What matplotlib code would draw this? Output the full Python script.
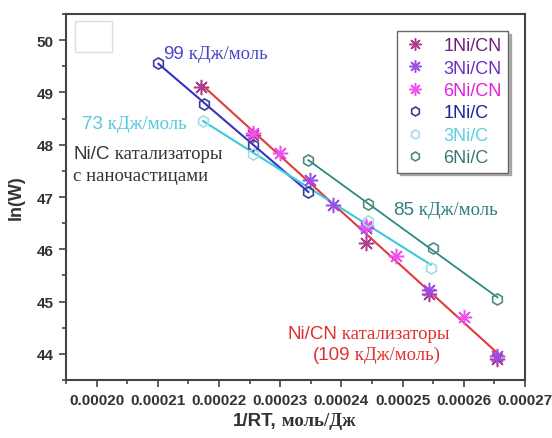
import matplotlib as mpl

mpl.use("Agg")
import matplotlib.pyplot as plt
import numpy as np
from matplotlib.patches import Rectangle
from matplotlib.ticker import FormatStrFormatter, MultipleLocator

SANS = "Liberation Sans"
SERIF = "Liberation Serif"

# Ni/CN catalysts (stars)
cn1_x = [0.0002171, 0.0002256, 0.0002440, 0.0002543, 0.0002655]
cn1_y = [49.10, 48.18, 46.12, 45.15, 43.90]
cn3_x = [0.0002349, 0.0002387, 0.0002440, 0.0002543, 0.0002655]
cn3_y = [47.32, 46.85, 46.40, 45.22, 43.95]
cn6_x = [0.0002256, 0.0002300, 0.0002440, 0.0002489, 0.0002600]
cn6_y = [48.22, 47.85, 46.45, 45.87, 44.70]

# Ni/C catalysts (hexagons)
c1_x = [0.0002101, 0.0002176, 0.0002256, 0.0002346]
c1_y = [49.56, 48.78, 48.00, 47.10]
c3_x = [0.0002174, 0.0002256, 0.0002443, 0.0002546]
c3_y = [48.45, 47.82, 46.55, 45.65]
c6_x = [0.0002346, 0.0002443, 0.0002550, 0.0002655]
c6_y = [47.70, 46.86, 46.03, 45.05]

labels = ["1Ni/CN", "3Ni/CN", "6Ni/CN", "1Ni/C", "3Ni/C", "6Ni/C"]
marker_colors = ["#b03c8c", "#9a50e6", "#f050f0", "#3c3c96", "#9fdfe6", "#4f8a84"]
text_colors = ["#6e1f78", "#6a2fc0", "#e020e0", "#1f1fa0", "#5ccfe0", "#3c7672"]


def fit_line(ax, xs, ys, color, lw=1.5):
    k, b = np.polyfit(xs, ys, 1)
    xx = np.array([min(xs), max(xs)])
    ax.plot(xx, k * xx + b, color=color, lw=lw, zorder=2)


def rich(ax, x, y, parts, color, size, coords="data"):
    # text made of pieces in different fonts (Arial digits + Times cyrillic)
    s0, kw0 = parts[0]
    prev = ax.annotate(s0, xy=(x, y), xycoords=coords, va="baseline", ha="left",
                       color=color, fontsize=size, annotation_clip=False, **kw0)
    for s, kw in parts[1:]:
        prev = ax.annotate(s, xy=(1, y), xycoords=(prev, coords), va="baseline",
                           ha="left", color=color, fontsize=size,
                           annotation_clip=False, **kw)


fig = plt.figure(figsize=(5.52, 4.39), dpi=100)
ax = fig.add_axes([0.1196, 0.1321, 0.8315, 0.8337])

fit_line(ax, cn1_x + cn3_x + cn6_x, cn1_y + cn3_y + cn6_y, "#e23a3a")
fit_line(ax, c1_x, c1_y, "#3434c4")
fit_line(ax, c3_x, c3_y, "#3ec8e0")
fit_line(ax, c6_x, c6_y, "#2e8a80", lw=1.3)

star = (8, 2, 0)
for xs, ys, lab, mc in zip([cn1_x, cn3_x, cn6_x], [cn1_y, cn3_y, cn6_y],
                           labels[:3], marker_colors[:3]):
    ax.plot(xs, ys, ls="none", marker=star, ms=11, mew=1.1, color=mc,
            label=lab, zorder=3)
for xs, ys, lab, mc in zip([c1_x, c3_x, c6_x], [c1_y, c3_y, c6_y],
                           labels[3:], marker_colors[3:]):
    ax.plot(xs, ys, ls="none", marker="h", ms=8, mew=1.2, mfc="none",
            mec=mc, label=lab, zorder=3)

ax.set_xlim(0.000195, 0.00027)
ax.set_ylim(43.5, 50.5)
ax.xaxis.set_major_locator(MultipleLocator(0.00001))
ax.xaxis.set_minor_locator(MultipleLocator(0.000005))
ax.yaxis.set_major_locator(MultipleLocator(1))
ax.yaxis.set_minor_locator(MultipleLocator(0.5))
ax.xaxis.set_major_formatter(FormatStrFormatter("%.5f"))
ax.tick_params(which="both", direction="out", top=False, right=False,
               color="#444444", width=1.2)
ax.tick_params(which="major", length=5, pad=4)
ax.tick_params(which="minor", length=3)
for lab in ax.get_xticklabels() + ax.get_yticklabels():
    lab.set_fontfamily(SANS)
    lab.set_fontweight("bold")
    lab.set_fontsize(11)
    lab.set_color("#333333")
for sp in ax.spines.values():
    sp.set_color("#444444")
    sp.set_linewidth(1.5)

# leftover empty box in the upper-left corner
ax.add_patch(Rectangle((0.0196, 0.896), 0.081, 0.085, transform=ax.transAxes,
                       fill=False, ec="#dddddd", lw=1))

sans = dict(family=SANS)
serif = dict(family=SERIF)
fs = 13.5
rich(ax, 0.0002109, 49.66, [("99", sans), (" кДж/моль", serif)], "#4646cc", fs)
rich(ax, 0.0001976, 48.32, [("73", sans), (" кДж/моль", serif)], "#55c8e0", fs)
rich(ax, 0.0001962, 47.74, [("Ni/C", sans), (" катализаторы", serif)], "#333333", fs)
rich(ax, 0.0001962, 47.32, [("с наночастицами", serif)], "#333333", fs)
rich(ax, 0.0002484, 46.67, [("85", sans), (" кДж/моль", serif)], "#2f7f7a", fs)
rich(ax, 0.0002312, 44.30, [("Ni/CN", sans), (" катализаторы", serif)], "#e03030", fs)
rich(ax, 0.0002353, 43.90, [("(109", sans), (" кДж/моль)", serif)], "#e03030", fs)

leg = ax.legend(loc="upper right", bbox_to_anchor=(0.963, 0.954), borderaxespad=0,
                frameon=True, fancybox=False, edgecolor="#666666",
                shadow={"color": "0.5", "alpha": 0.6},
                handlelength=1.3, handletextpad=0.9, labelspacing=0.3,
                borderpad=0.35, markerscale=0.8, prop=dict(family=SANS, size=13))
leg.get_frame().set_linewidth(1.0)
for t, c in zip(leg.get_texts(), text_colors):
    t.set_color(c)

ax.set_ylabel("ln(W)", fontfamily=SANS, fontweight="bold", fontsize=13,
              color="#333333")
ax.yaxis.set_label_coords(-0.09, 0.5)
xl_bold = dict(family=SANS, weight="bold")
xl_serif = dict(family=SERIF, weight="bold")
rich(ax, 0.422, 0.03, [("1/RT,", xl_bold), (" моль/Дж", xl_serif)],
     "#333333", 13.5, coords="figure fraction")

fig.savefig("out.png", dpi=100)
